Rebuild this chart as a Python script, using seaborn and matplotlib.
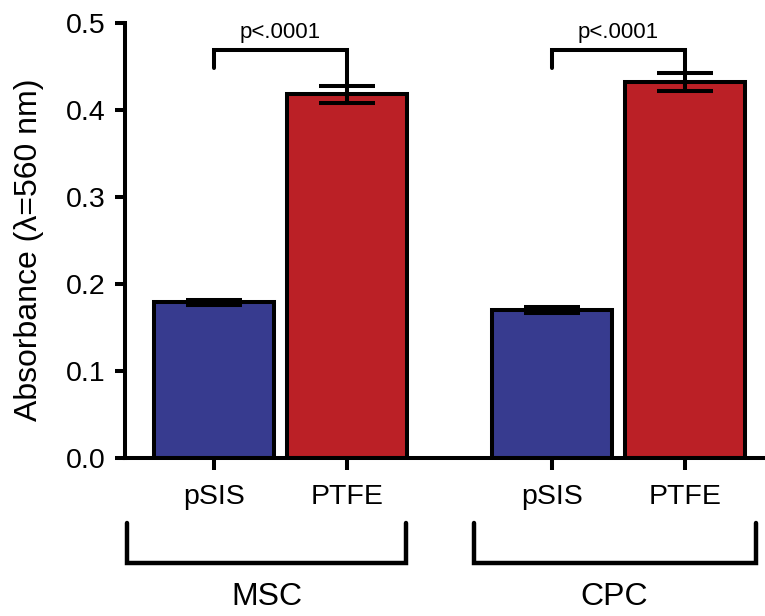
import pandas as pd
import matplotlib.pyplot as plt
import seaborn as sns

sns.set_theme(style='ticks')
plt.rcParams['font.family'] = ['Liberation Sans', 'DejaVu Sans']
plt.rcParams['text.color'] = 'black'
plt.rcParams['axes.labelcolor'] = 'black'

# data
groups = ['MSC', 'MSC', 'CPC', 'CPC']
materials = ['pSIS', 'PTFE', 'pSIS', 'PTFE']
absorbance = [0.179, 0.418, 0.170, 0.432]
sem = [0.003, 0.010, 0.003, 0.010]
pvals = ['p<.0001', 'p<.0001']

df = pd.DataFrame({'group': groups, 'material': materials,
                   'absorbance': absorbance, 'sem': sem})

blue = '#373b8f'
red = '#bb2026'
lw = 2.9

fig = plt.figure(figsize=(7.65, 6.16), dpi=100)
ax = fig.add_axes([125 / 765, 1 - 458 / 616, 1 - 125 / 765, (458 - 23) / 616])

sns.barplot(data=df, x='group', y='absorbance', hue='material',
            order=['MSC', 'CPC'], hue_order=['pSIS', 'PTFE'],
            palette=[blue, red], width=0.79, gap=0.1, errorbar=None,
            edgecolor='black', linewidth=lw, saturation=1, legend=False, ax=ax)

# bar centres in the order of the dataframe rows
bars = sorted(ax.patches, key=lambda p: p.get_x())
centers = [b.get_x() + b.get_width() / 2 for b in bars]

ax.errorbar(centers, absorbance, yerr=sem, fmt='none', ecolor='black',
            elinewidth=lw, capsize=20, capthick=lw, zorder=5)

ax.set_ylim(0, 0.5)
ax.set_xlim(-0.46, 1.433)
ax.set_yticks([0.0, 0.1, 0.2, 0.3, 0.4, 0.5])
ax.set_yticklabels(['0.0', '0.1', '0.2', '0.3', '0.4', '0.5'])
ax.set_xticks(centers)
ax.set_xticklabels(materials)
ax.set_xlabel('')
ax.set_ylabel('Absorbance (\u03bb=560 nm)', fontsize=23)
ax.yaxis.set_label_coords(-0.126, 0.478)
ax.tick_params(axis='y', length=7, width=lw, pad=7, labelsize=20.5, colors='black')
ax.tick_params(axis='x', length=8.5, width=lw, pad=10, labelsize=20.5, colors='black')
for s in ['left', 'bottom']:
    ax.spines[s].set_linewidth(lw)
    ax.spines[s].set_color('black')
sns.despine(ax=ax)
ax.spines['bottom'].set_clip_on(False)

# significance brackets
for i, txt in enumerate(pvals):
    x1, x2 = centers[2 * i], centers[2 * i + 1]
    top = 0.469
    ax.plot([x1, x1, x2, x2], [0.448, top, top, absorbance[2 * i + 1] + sem[2 * i + 1]],
            color='black', lw=lw, clip_on=False, solid_joinstyle='miter')
    ax.text((x1 + x2) / 2, 0.477, txt, ha='center', va='bottom', fontsize=16)

# group brackets below the axis
trans = ax.get_xaxis_transform()
for gname, (xl, xr) in zip(['MSC', 'CPC'], [(-0.453, 0.372), (0.571, 1.405)]):
    ax.plot([xl, xl, xr, xr], [-0.149, -0.241, -0.241, -0.149], color='black',
            lw=3.2, transform=trans, clip_on=False, solid_joinstyle='miter')
    ax.text((xl + xr) / 2, -0.32, gname, ha='center', va='center',
            fontsize=23, transform=trans)

plt.savefig('out.png', dpi=100)
